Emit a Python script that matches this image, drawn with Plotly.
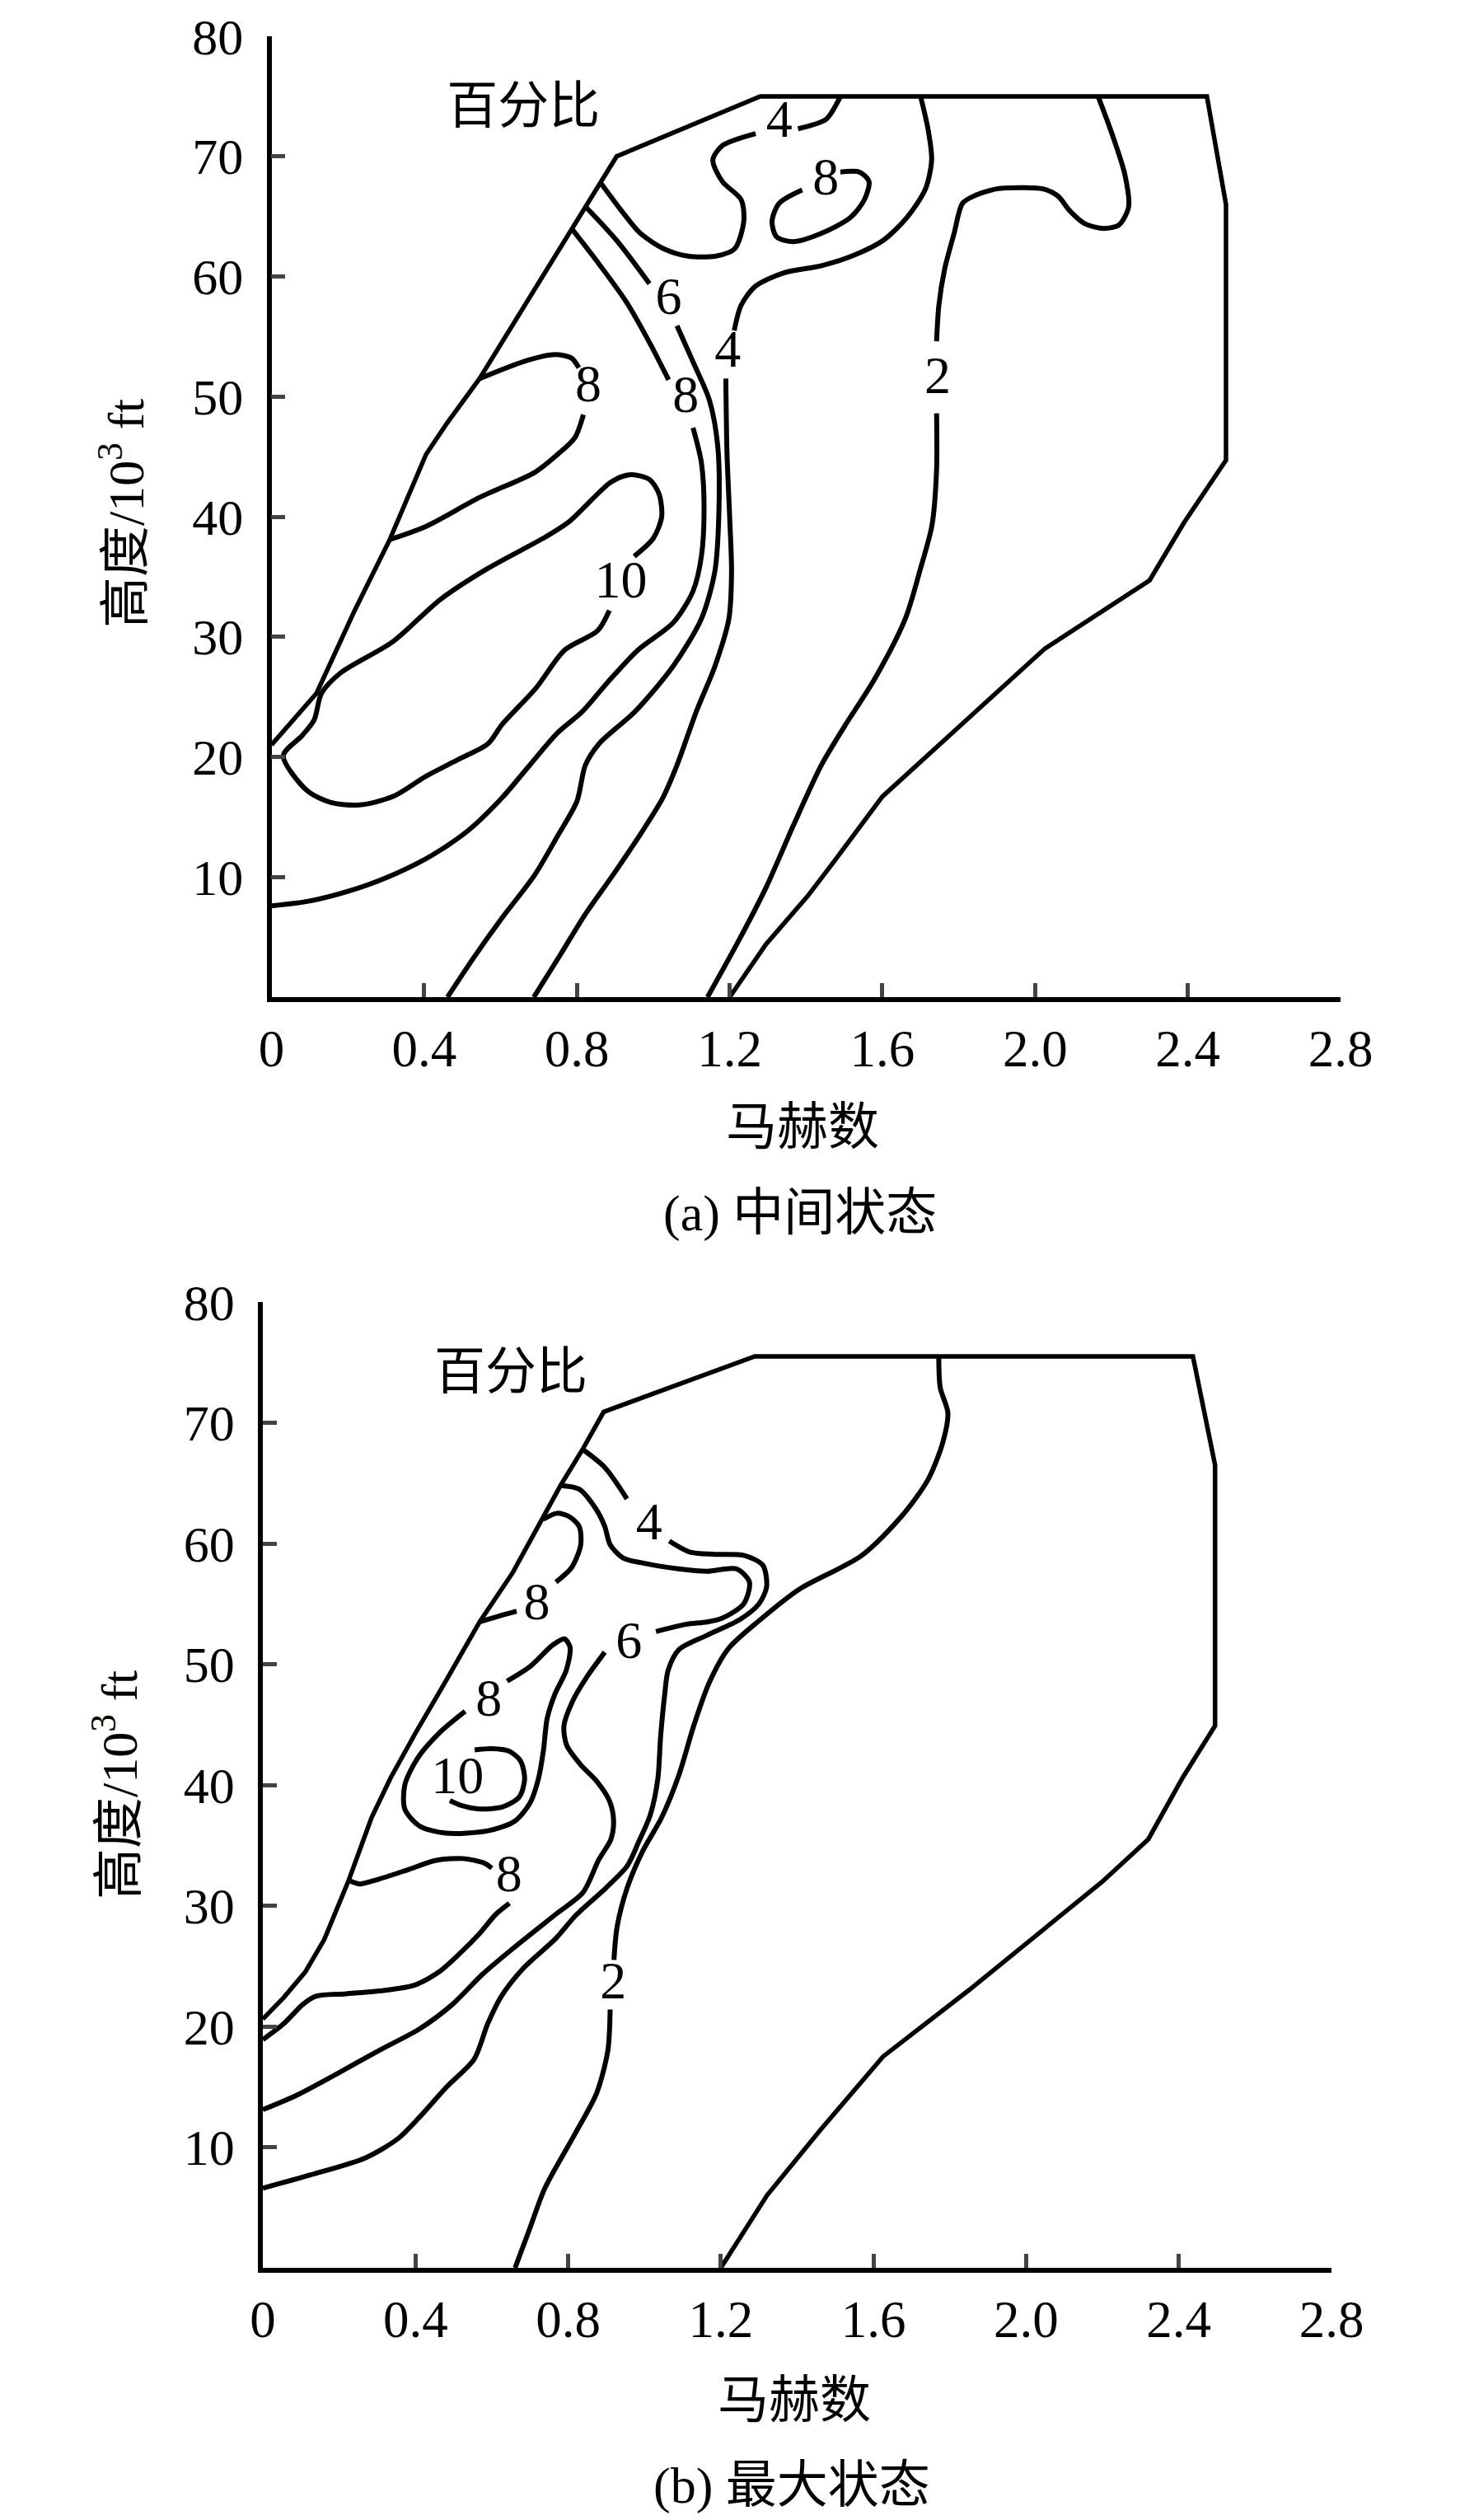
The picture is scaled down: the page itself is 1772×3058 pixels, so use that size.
import plotly.graph_objects as go

# ---------------- (a) 中间状态 ----------------
a_boundary_mach = [0, 0.06, 0.118, 0.218, 0.31, 0.405, 0.46, 0.545, 0.72, 0.904, 1.28, 2.45, 2.5, 2.5, 2.39, 2.30, 2.025, 1.6, 1.476, 1.404, 1.295, 1.2]
a_boundary_alt = [21.0, 23.2, 25.3, 32.2, 38.1, 45.2, 47.8, 51.5, 60.5, 70.0, 75.0, 75.0, 66.0, 44.7, 39.5, 34.7, 29.0, 16.7, 11.4, 8.4, 4.4, 0]

a_c10_mach = [0.95, 1.00, 1.022, 1.015, 0.99, 0.941, 0.89, 0.78, 0.717, 0.567, 0.442, 0.318, 0.181, 0.131, 0.112, 0.081, 0.031,
              0.093, 0.156, 0.23, 0.318, 0.405, 0.49, 0.567, 0.604, 0.692, 0.768, 0.854, 0.885]
a_c10_alt = [36.7, 38.2, 40.0, 41.9, 43.1, 43.5, 42.9, 39.6, 38.3, 35.7, 33.1, 29.6, 27.0, 25.3, 23.1, 21.8, 20.1,
             17.2, 16.2, 16.0, 16.7, 18.4, 19.8, 21.1, 22.7, 25.7, 28.9, 30.5, 32.2]

a_c8l_mach = [0.545, 0.668, 0.743, 0.786, 0.805, None, 0.817, 0.795, 0.75, 0.69, 0.545, 0.405, 0.31]
a_c8l_alt = [51.5, 53.0, 53.5, 53.2, 52.4, None, 48.5, 46.6, 45.2, 43.7, 41.6, 39.2, 38.1]

a_c8r_mach = [0.787, 0.854, 0.929, 0.99, 1.04, None, 1.104, 1.126, 1.133, 1.126, 1.104, 1.053, 0.96, 0.88, 0.815,
              0.749, 0.676, 0.604, 0.52, 0.42, 0.305, 0.2, 0.1, 0]
a_c8r_alt = [63.95, 61.2, 57.9, 54.5, 51.4, None, 47.4, 44.5, 40.6, 36.7, 33.8, 31.2, 28.9, 26.2, 23.8,
             22.0, 19.3, 16.6, 14.0, 11.8, 10.0, 8.8, 8.0, 7.6]

a_c6_mach = [0.823, 0.904, 0.99, None, 1.062, 1.104, 1.147, 1.169, 1.172, 1.161, 1.126, 1.053, 0.953, 0.858, 0.822,
             0.8, 0.749, 0.69, 0.604, 0.53, 0.461]
a_c6_alt = [65.8, 63.0, 59.4, None, 55.9, 52.9, 49.7, 45.8, 40.6, 35.4, 31.5, 27.6, 23.8, 21.1, 19.3,
            16.3, 13.4, 10.2, 6.6, 3.3, 0]

a_c4top_mach = [0.862, 0.916, 0.966, 1.028, 1.09, 1.164, 1.213, 1.237, 1.23, 1.181, 1.156, 1.181, 1.268, None,
                1.379, 1.453, 1.484, 1.49]
a_c4top_alt = [67.8, 65.5, 63.6, 62.3, 61.7, 61.7, 62.3, 64.6, 66.4, 67.9, 69.7, 70.9, 71.9, None,
               72.3, 73.1, 74.6, 75.0]

a_c8top_mach = [1.49, 1.54, 1.565, 1.553, 1.516, 1.441, 1.367, 1.323, 1.311, 1.33, 1.39]
a_c8top_alt = [68.7, 68.7, 67.9, 66.4, 64.9, 63.6, 62.9, 63.3, 64.6, 66.1, 67.2]

a_c4_mach = [1.70, 1.72, 1.729, 1.713, 1.664, 1.602, 1.528, 1.441, 1.342, 1.268, 1.23, 1.212, None,
             1.19, 1.193, 1.2, 1.205, 1.198, 1.162, 1.113, 1.062, 1.025, 0.967, 0.895, 0.822, 0.756, 0.687]
a_c4_alt = [75.0, 72.2, 69.7, 67.3, 64.9, 63.0, 61.8, 60.9, 60.3, 59.2, 57.6, 55.5, None,
            51.5, 45.4, 40.0, 35.4, 31.5, 27.6, 23.8, 19.3, 16.6, 13.6, 10.2, 6.9, 3.5, 0]

a_c2_mach = [2.165, 2.2, 2.235, 2.245, 2.22, 2.18, 2.13, 2.09, 2.06, 2.02, 1.97, 1.90, 1.84, 1.81, 1.788, 1.763,
             1.748, 1.742, None, 1.742, 1.742, 1.73, 1.70, 1.66, 1.58, 1.5, 1.44, 1.367, 1.295, 1.222, 1.142]
a_c2_alt = [75.0, 72.0, 68.5, 65.8, 64.3, 64.0, 64.4, 65.5, 66.7, 67.3, 67.4, 67.3, 66.7, 66.1, 63.6, 60.6,
            57.6, 54.6, None, 48.6, 43.9, 39.3, 35.7, 31.5, 26.5, 22.5, 19.3, 14.3, 9.1, 4.6, 0]

a_label_text = ["8", "10", "8", "6", "4", "2", "4", "8"]
a_label_mach = [0.83, 0.915, 1.085, 1.04, 1.195, 1.745, 1.33, 1.452]
a_label_alt = [50.7, 34.4, 49.8, 58.0, 53.6, 51.4, 72.7, 67.9]

# ---------------- (b) 最大状态 ----------------
b_boundary_mach = [0, 0.055, 0.111, 0.161, 0.225, 0.285, 0.335, 0.40, 0.472, 0.568, 0.655, 0.732, 0.78, 0.838, 0.893,
                   1.289, 2.437, 2.495, 2.495, 2.41, 2.32, 2.2, 2.05, 1.85, 1.625, 1.455, 1.321, 1.2]
b_boundary_alt = [20.6, 22.4, 24.5, 27.2, 32.1, 37.3, 40.6, 44.3, 48.2, 53.5, 57.6, 62.0, 64.8, 67.8, 70.9,
                  75.5, 75.5, 66.5, 44.9, 40.6, 35.5, 32.0, 28.1, 23.0, 17.5, 11.2, 6.0, 0]

b_c4_mach = [0.838, 0.896, 0.954, None, 1.065, 1.118, 1.185, 1.262, 1.31, 1.32, 1.30, 1.25, 1.164, 1.09, 1.062, 1.053,
             1.042, 1.035, 1.015, 0.985, 0.955, 0.90, 0.82, 0.768, 0.682, 0.625, 0.589, 0.554, 0.482, 0.411, 0.354,
             0.268, 0.125, 0]
b_c4_alt = [67.8, 66.3, 63.7, None, 60.2, 59.3, 59.1, 59.0, 58.2, 56.4, 55.0, 53.7, 52.4, 51.2, 49.5, 47.5,
            43.9, 40.5, 37.5, 35.3, 33.3, 31.5, 29.2, 27.3, 24.8, 22.5, 20.2, 17.3, 15.0, 12.5, 10.7,
            9.1, 7.7, 6.6]

b_c6_mach = [0.78, 0.829, 0.872, 0.896, 0.91, 0.944, 0.992, 1.089, 1.164, 1.241, 1.275, 1.26, 1.203, 1.164, 1.108,
             1.03, None, 0.896, 0.848, 0.811, 0.789, 0.796, 0.832, 0.875, 0.908, 0.919, 0.912, 0.88, 0.839, 0.768,
             0.661, 0.575, 0.496, 0.411, 0.304, 0.196, 0.089, 0]
b_c6_alt = [64.8, 64.5, 62.9, 61.4, 59.9, 58.8, 58.4, 57.9, 57.7, 57.9, 56.8, 55.0, 53.8, 53.5, 53.3,
            52.7, None, 51.0, 48.9, 46.9, 44.9, 43.3, 41.7, 40.3, 38.7, 37.1, 35.5, 33.8, 31.1, 29.3,
            26.6, 24.3, 21.8, 19.8, 18.0, 16.1, 14.3, 13.1]

b_c8up_mach = [0.568, 0.62, 0.665, None, 0.768, 0.809, 0.833, 0.829, 0.804, 0.771, 0.735]
b_c8up_alt = [53.5, 54.0, 54.4, None, 56.8, 58.0, 59.9, 61.4, 62.2, 62.5, 62.0]

b_c8mid_mach = [0.64, 0.70, 0.76, 0.79, 0.805, 0.795, 0.765, 0.745, 0.735, 0.722, 0.70, 0.66, 0.59, 0.48, 0.41,
                0.372, 0.372, 0.405, 0.462, 0.53]
b_c8mid_alt = [48.6, 49.8, 51.6, 52.1, 51.4, 49.5, 47.5, 45.5, 42.8, 40.5, 38.5, 37.0, 36.2, 36.0, 36.6,
               38.0, 40.0, 42.2, 44.3, 46.1]

b_c10_mach = [0.555, 0.60, 0.645, 0.675, 0.686, 0.672, 0.63, 0.57, 0.52, 0.49]
b_c10_alt = [42.9, 43.0, 42.8, 42.0, 40.5, 39.0, 38.2, 38.0, 38.3, 38.7]

b_c8low_mach = [0.225, 0.254, 0.304, 0.382, 0.454, 0.525, 0.582, 0.60, None, 0.646, 0.611, 0.568, 0.518, 0.461,
                0.396, 0.325, 0.218, 0.139, 0.104, 0.082, 0.054, 0]
b_c8low_alt = [32.1, 31.8, 32.2, 33.0, 33.75, 33.9, 33.5, 33.1, None, 30.2, 29.3, 27.7, 26.1, 24.5,
               23.4, 23.0, 22.7, 22.5, 21.8, 21.1, 20.2, 18.9]

b_c2_mach = [1.771, 1.775, 1.795, 1.781, 1.743, 1.675, 1.569, 1.405, 1.30, 1.22, 1.17, 1.13, 1.09, 1.045, 0.995,
             0.955, 0.928, 0.92, None, 0.91, 0.904, 0.875, 0.818, 0.739, 0.70, 0.661]
b_c2_alt = [75.5, 72.9, 70.8, 68.3, 65.3, 62.3, 59.0, 56.2, 53.6, 51.3, 48.5, 45.0, 40.8, 37.3, 34.5,
            31.5, 28.2, 25.5, None, 21.4, 18.0, 14.5, 11.1, 6.6, 3.3, 0]

b_label_text = ["4", "8", "6", "8", "10", "8", "2"]
b_label_mach = [1.012, 0.718, 0.959, 0.592, 0.51, 0.645, 0.918]
b_label_alt = [61.4, 54.8, 51.6, 46.8, 40.4, 32.3, 23.4]

x_ticks = [0, 0.4, 0.8, 1.2, 1.6, 2.0, 2.4, 2.8]
x_tick_text = ["0", "0.4", "0.8", "1.2", "1.6", "2.0", "2.4", "2.8"]
y_ticks = [10, 20, 30, 40, 50, 60, 70, 80]

FONT = "Liberation Serif, Times New Roman, Noto Sans CJK SC, serif"
W, H = 1772, 3058

fig = go.Figure()


def add_curve(x, y, ax, shape="spline", width=6):
    fig.add_trace(go.Scatter(x=x, y=y, mode="lines", xaxis=ax[0], yaxis=ax[1],
                             line=dict(color="black", width=width, shape=shape, smoothing=0.8),
                             connectgaps=False, hoverinfo="skip", showlegend=False))


def add_labels(x, y, t, ax, size=64):
    fig.add_trace(go.Scatter(x=x, y=y, text=t, mode="text", xaxis=ax[0], yaxis=ax[1],
                             textposition="middle center",
                             textfont=dict(family=FONT, size=size, color="black"),
                             hoverinfo="skip", showlegend=False))


pa = ("x", "y")
add_curve(a_boundary_mach, a_boundary_alt, pa, shape="linear", width=5.5)
for xs, ys in [(a_c10_mach, a_c10_alt), (a_c8l_mach, a_c8l_alt), (a_c8r_mach, a_c8r_alt),
               (a_c6_mach, a_c6_alt), (a_c4top_mach, a_c4top_alt), (a_c8top_mach, a_c8top_alt),
               (a_c4_mach, a_c4_alt), (a_c2_mach, a_c2_alt)]:
    add_curve(xs, ys, pa)
add_labels(a_label_mach, a_label_alt, a_label_text, pa)
add_labels([0.66], [73.8], ["百分比"], pa, size=62)

pb = ("x2", "y2")
add_curve(b_boundary_mach, b_boundary_alt, pb, shape="linear", width=5.5)
for xs, ys in [(b_c4_mach, b_c4_alt), (b_c6_mach, b_c6_alt), (b_c8up_mach, b_c8up_alt),
               (b_c8mid_mach, b_c8mid_alt), (b_c10_mach, b_c10_alt), (b_c8low_mach, b_c8low_alt),
               (b_c2_mach, b_c2_alt)]:
    add_curve(xs, ys, pb)
add_labels(b_label_mach, b_label_alt, b_label_text, pb)
add_labels([0.65], [73.8], ["百分比"], pb, size=62)

xax = dict(range=[0, 2.8], tickvals=x_ticks, ticktext=x_tick_text, ticks="inside", ticklen=17, tickwidth=4.5,
           showline=True, linecolor="black", linewidth=5.5, showgrid=False, zeroline=False, automargin=False,
           tickfont=dict(family=FONT, size=63, color="black"), ticklabelstandoff=3, ticklabeloverflow="allow")
yax = dict(range=[0, 80], tickvals=y_ticks, ticks="inside", ticklen=17, tickwidth=4.5,
           showline=True, linecolor="black", linewidth=5.5, showgrid=False, zeroline=False, automargin=False,
           tickfont=dict(family=FONT, size=62, color="black"), ticklabelstandoff=16, ticklabeloverflow="allow")

fig.update_layout(
    width=W, height=H, margin=dict(l=0, r=0, t=0, b=0, autoexpand=False),
    paper_bgcolor="white", plot_bgcolor="white",
    xaxis=dict(xax, domain=[321.5 / W, 1619 / W], anchor="y"),
    yaxis=dict(yax, domain=[1 - 1202 / H, 1 - 36 / H], anchor="x"),
    xaxis2=dict(xax, domain=[311 / W, 1608 / W], anchor="y2"),
    yaxis2=dict(yax, domain=[1 - 2744 / H, 1 - 1572 / H], anchor="x2"),
)

titles = [
    (140, 615, "高度/10<sup>3</sup> ft", -90),
    (966, 1360, "马赫数", 0),
    (963, 1464, "(a) 中间状态", 0),
    (132, 2158, "高度/10<sup>3</sup> ft", -90),
    (956, 2905, "马赫数", 0),
    (953, 3008, "(b) 最大状态", 0),
]
for px, py, txt, ang in titles:
    fig.add_annotation(x=px / W, y=1 - py / H, xref="paper", yref="paper", text=txt, showarrow=False,
                       textangle=ang, xanchor="center", yanchor="middle",
                       font=dict(family=FONT, size=62, color="black"))

fig.write_html("out.html")
